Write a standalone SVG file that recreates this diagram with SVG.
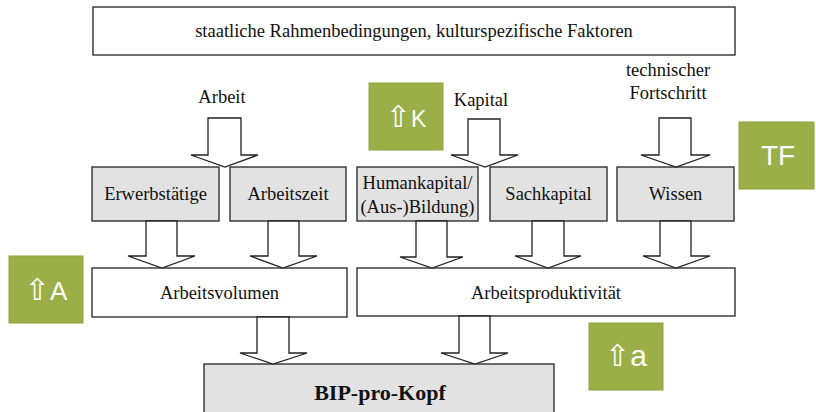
<svg xmlns="http://www.w3.org/2000/svg" width="816" height="412" viewBox="0 0 816 412">
<style>
  .box { fill: #ffffff; stroke: #222; stroke-width: 1.3; }
  .gbox { fill: #e2e2e2; stroke: #222; stroke-width: 1.3; }
  .arr { fill: #ffffff; stroke: #222; stroke-width: 1.3; stroke-linejoin: miter; }
  .t { font-family: "Liberation Serif", "Times New Roman", serif; font-size: 18.5px; fill: #111; text-anchor: middle; }
  .tb { font-family: "Liberation Serif", "Times New Roman", serif; font-size: 22px; font-weight: bold; fill: #111; text-anchor: middle; }
  .green { fill: #9aaf47; stroke: #8da33e; stroke-width: 1; }
  .gt { font-family: "Liberation Sans", "DejaVu Sans", Arial, sans-serif; fill: #ffffff; text-anchor: middle; }
  .up { font-family: "DejaVu Sans", sans-serif; font-size: 30px; }
</style>
<rect width="816" height="412" fill="#ffffff"/>

<g id="rahmen">
  <rect class="box" x="93" y="7" width="642" height="48"/>
  <text class="t" x="414" y="37">staatliche Rahmenbedingungen, kulturspezifische Faktoren</text>
</g>

<g id="label-arbeit"><text class="t" x="222" y="103">Arbeit</text></g>
<g id="label-kapital"><text class="t" x="481" y="106">Kapital</text></g>
<g id="label-tf">
  <text class="t" x="668" y="76">technischer</text>
  <text class="t" x="668" y="99">Fortschritt</text>
</g>

<g id="erwerbstaetige">
  <rect class="gbox" x="92" y="167" width="127" height="54"/>
  <text class="t" x="155.5" y="200">Erwerbstätige</text>
</g>
<g id="arbeitszeit">
  <rect class="gbox" x="230" y="167" width="116" height="54"/>
  <text class="t" x="288" y="200">Arbeitszeit</text>
</g>
<g id="humankapital">
  <rect class="gbox" x="357" y="167" width="121" height="54"/>
  <text class="t" x="417.5" y="189">Humankapital/</text>
  <text class="t" x="417.5" y="213">(Aus-)Bildung)</text>
</g>
<g id="sachkapital">
  <rect class="gbox" x="490" y="167" width="117" height="54"/>
  <text class="t" x="548.5" y="200">Sachkapital</text>
</g>
<g id="wissen">
  <rect class="gbox" x="617" y="167" width="117" height="54"/>
  <text class="t" x="675.5" y="200">Wissen</text>
</g>

<g id="arbeitsvolumen">
  <rect class="box" x="92" y="268" width="255" height="49"/>
  <text class="t" x="219.5" y="299">Arbeitsvolumen</text>
</g>
<g id="arbeitsproduktivitaet">
  <rect class="box" x="357" y="268" width="378" height="48"/>
  <text class="t" x="546" y="299">Arbeitsproduktivität</text>
</g>

<g id="bip">
  <rect class="gbox" x="204" y="364" width="350" height="60"/>
  <text class="tb" x="380" y="400">BIP-pro-Kopf</text>
</g>

<g id="connectors">
  <polygon class="arr" points="208,118 241,118 241,155 258,155 225,167 191,155 208,155"/>
  <polygon class="arr" points="468,119 500,119 500,155 518,155 485,167 451,155 468,155"/>
  <polygon class="arr" points="659,118 691,118 691,155 710,155 676,167 641,155 659,155"/>
  <polygon class="arr" points="146,221 177,221 177,256 195,256 162,268 128,256 146,256"/>
  <polygon class="arr" points="268,221 299,221 299,256 317,256 283,268 250,256 268,256"/>
  <polygon class="arr" points="416,221 447,221 447,257 463,257 432,268 400,257 416,257"/>
  <polygon class="arr" points="532,221 564,221 564,256 581,256 548,268 515,256 532,256"/>
  <polygon class="arr" points="660,221 691,221 691,256 710,256 676,268 643,256 660,256"/>
  <polygon class="arr" points="257,317 289,317 289,353 307,353 273,364 240,353 257,353"/>
  <polygon class="arr" points="459,316 490,316 490,353 508,353 475,364 441,353 459,353"/>
</g>

<g id="badge-K">
  <rect class="green" x="369" y="83" width="74" height="67"/>
  <text class="gt" x="406" y="127" font-size="23"><tspan class="up">⇧</tspan>K</text>
</g>
<g id="badge-TF">
  <rect class="green" x="739" y="122" width="75" height="67"/>
  <text class="gt" x="778" y="165" font-size="28">TF</text>
</g>
<g id="badge-A">
  <rect class="green" x="9" y="256" width="74" height="67"/>
  <text class="gt" x="46" y="300" font-size="26"><tspan class="up">⇧</tspan>A</text>
</g>
<g id="badge-a">
  <rect class="green" x="589" y="323" width="74" height="67"/>
  <text class="gt" x="626" y="366" font-size="30"><tspan class="up">⇧</tspan>a</text>
</g>
</svg>
